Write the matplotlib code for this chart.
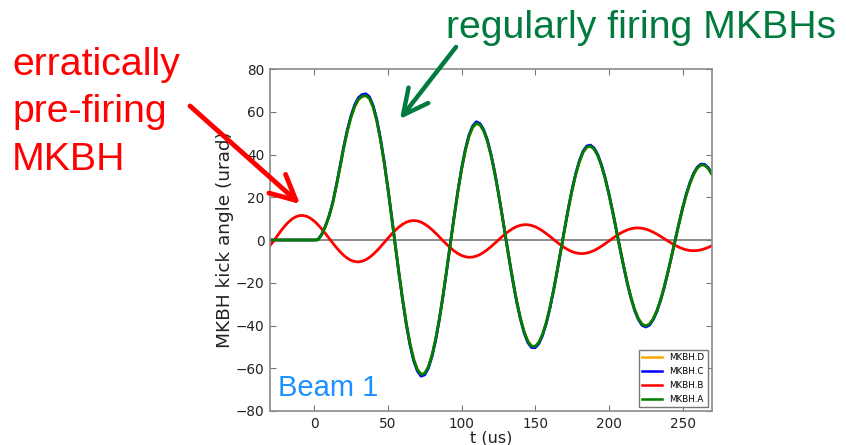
import numpy as np
import matplotlib
matplotlib.use("Agg")
import matplotlib.pyplot as plt

# time axis (us), sampled every 2.5 us
t_us = np.arange(-30, 270.01, 2.5)

# kick angle (urad)
mkbh_a = [0.0, 0.0, 0.0, 0.0, 0.0, 0.0, 0.0, 0.0, 0.0, 0.0, 0.0, 0.0, 0.0,
          0.1, 2.5, 6.2, 11.0, 17.1, 25.2, 34.0, 43.0, 51.0, 57.5, 62.5, 65.8, 67.2, 67.6,
          66.2, 62.2, 55.6, 46.8, 36.2, 24.1, 11.1, -2.3, -15.4, -27.8,
          -39.0, -48.5, -55.8, -60.6, -62.9, -62.4, -59.3, -53.8,
          -46.1, -36.6, -25.6, -13.6, -1.2, 11.0, 22.6, 33.0,
          41.7, 48.4, 52.7, 54.6, 53.9, 51.1, 46.3, 39.6,
          31.4, 21.9, 11.7, 1.0, -9.6, -19.7, -28.9, -36.7,
          -43.0, -47.4, -49.7, -49.8, -47.9, -44.1, -38.6, -31.5,
          -23.2, -14.0, -4.4, 5.3, 14.7, 23.3, 30.7, 36.7,
          41.1, 43.5, 43.9, 42.5, 39.4, 34.7, 28.7, 21.4,
          13.4, 4.9, -3.8, -12.2, -20.1, -26.9, -32.6, -36.8,
          -39.4, -40.2, -39.4, -37.0, -33.2, -28.2, -22.1, -15.1,
          -7.7, -0.1, 7.5, 14.7, 21.1, 26.5, 30.8, 33.7,
          35.1, 35.0, 33.4, 30.6]

mkbh_b = [-2.6, -0.50, 1.99, 4.37, 6.52, 8.37, 9.84, 10.86, 11.41, 11.47, 11.04, 10.16, 8.85,
          7.20, 5.26, 3.13, 0.90, -1.34, -3.48, -5.45, -7.15, -8.52, -9.52, -10.09, -10.24,
          -9.94, -9.23, -8.14, -6.73, -5.04, -3.17, -1.20, 0.79, 2.72, 4.51, 6.07, 7.36,
          8.32, 8.90, 9.10, 8.92, 8.36, 7.45, 6.24, 4.79, 3.16, 1.42, -0.35, -2.08,
          -3.70, -5.13, -6.33, -7.24, -7.83, -8.08, -7.98, -7.55, -6.80, -5.78, -4.53, -3.11,
          -1.58, 0.00, 1.55, 3.01, 4.32, 5.43, 6.29, 6.88, 7.15, 7.13, 6.80, 6.19,
          5.33, 4.26, 3.02, 1.68, 0.28, -1.11, -2.42, -3.62, -4.64, -5.45, -6.02, -6.32,
          -6.35, -6.12, -5.62, -4.90, -3.98, -2.91, -1.73, -0.50, 0.74, 1.92, 3.01, 3.95,
          4.71, 5.26, 5.58, 5.65, 5.49, 5.10, 4.49, 3.71, 2.79, 1.75, 0.66, -0.44,
          -1.50, -2.49, -3.35, -4.06, -4.59, -4.91, -5.03, -4.92, -4.61, -4.11, -3.44, -2.64]

mkbh_c = [0.0, 0.0, 0.0, 0.0, 0.0, 0.0, 0.0, 0.0, 0.0, 0.0, 0.0, 0.0, 0.0,
          0.1, 2.5, 6.3, 11.1, 17.3, 25.5, 34.4, 43.5, 51.6, 58.2, 63.3, 66.6, 68.0, 68.4,
          67.0, 62.9, 56.3, 47.4, 36.6, 24.4, 11.2, -2.3, -15.6, -28.1,
          -39.5, -49.1, -56.5, -61.3, -63.7, -63.1, -60.0, -54.4,
          -46.7, -37.0, -25.9, -13.8, -1.2, 11.1, 22.9, 33.4,
          42.2, 49.0, 53.3, 55.3, 54.5, 51.7, 46.9, 40.1,
          31.8, 22.2, 11.8, 1.0, -9.7, -19.9, -29.2, -37.1,
          -43.5, -48.0, -50.3, -50.4, -48.5, -44.6, -39.1, -31.9,
          -23.5, -14.2, -4.5, 5.4, 14.9, 23.6, 31.1, 37.1,
          41.6, 44.0, 44.4, 43.0, 39.9, 35.1, 29.0, 21.7,
          13.6, 5.0, -3.8, -12.3, -20.3, -27.2, -33.0, -37.2,
          -39.9, -40.7, -39.9, -37.4, -33.6, -28.5, -22.4, -15.3,
          -7.8, -0.1, 7.6, 14.9, 21.4, 26.8, 31.2, 34.1,
          35.5, 35.4, 33.8, 31.0]

mkbh_d = [0.0, 0.0, 0.0, 0.0, 0.0, 0.0, 0.0, 0.0, 0.0, 0.0, 0.0, 0.0, 0.0,
          0.1, 2.4, 6.1, 10.9, 17.0, 25.1, 33.9, 42.9, 50.9, 57.4, 62.4, 65.7, 67.1, 67.5,
          66.2, 62.3, 55.8, 47.0, 36.4, 24.4, 11.4, -2.0, -15.1, -27.5,
          -38.8, -48.3, -55.6, -60.5, -62.8, -62.4, -59.4, -53.9,
          -46.3, -36.8, -25.8, -13.9, -1.5, 10.7, 22.3, 32.7,
          41.5, 48.2, 52.6, 54.5, 53.9, 51.2, 46.5, 39.8,
          31.7, 22.2, 12.0, 1.3, -9.3, -19.4, -28.6, -36.5,
          -42.8, -47.2, -49.6, -49.8, -48.0, -44.3, -38.8, -31.8,
          -23.5, -14.3, -4.7, 5.0, 14.4, 23.0, 30.5, 36.5,
          41.0, 43.4, 43.9, 42.6, 39.6, 34.9, 28.9, 21.7,
          13.7, 5.2, -3.5, -11.9, -19.8, -26.7, -32.4, -36.7,
          -39.3, -40.2, -39.5, -37.1, -33.4, -28.4, -22.4, -15.4,
          -8.0, -0.4, 7.2, 14.4, 20.8, 26.3, 30.6, 33.6,
          35.1, 35.0, 33.5, 30.7]

labels = ["MKBH.D", "MKBH.C", "MKBH.B", "MKBH.A"]
colors = ["#FFA500", "#0000FF", "#FF0000", "#008000"]
series = [mkbh_d, mkbh_c, mkbh_b, mkbh_a]

W, H = 846, 445


def fx(px):
    return px / W


def fy(py):
    # pixel measured from the top
    return 1 - py / H


fig = plt.figure(figsize=(W / 100, H / 100), dpi=100)
ax = fig.add_axes([fx(270), fy(411), (712 - 270) / W, (411 - 69) / H])

ax.axhline(0, color="#8c8c8c", lw=1.4, zorder=1)
for vals, lab, col in zip(series, labels, colors):
    ax.plot(t_us, vals, color=col, lw=2.0, label=lab, zorder=2)

ax.set_xlim(-30, 270)
ax.set_ylim(-80, 80)
ax.set_xticks([0, 50, 100, 150, 200, 250])
ax.set_yticks(np.arange(-80, 81, 20))
ax.tick_params(direction="in", top=True, right=True, length=4, width=0.8,
               color="#777777", labelsize=9.8, labelcolor="#222222", pad=4)
for sp in ax.spines.values():
    sp.set_color("#8a8a8a")
    sp.set_linewidth(1.2)

ax.set_xlabel("t (us)", fontsize=11.5, color="#222222", labelpad=0)
ax.set_ylabel("MKBH kick angle (urad)", fontsize=13.3, color="#222222", labelpad=1)

leg = ax.legend(loc="lower right", fontsize=6.3, handlelength=2.3, labelspacing=0.55,
                borderaxespad=0.45, fancybox=False, framealpha=1, edgecolor="#777777")
leg.get_frame().set_linewidth(1.0)
for ln in leg.get_lines():
    ln.set_linewidth(1.8)

# slide annotations
fig.text(fx(278), fy(396), "Beam 1", family="Liberation Sans", fontsize=21,
         color="#1E90FF", va="baseline", ha="left")
fig.text(fx(446), fy(38), "regularly firing MKBHs", family="Liberation Sans",
         fontsize=28.3, color="#007A3D", va="baseline", ha="left")
for txt, base in [("erratically", 75), ("pre-firing", 122), ("MKBH", 170)]:
    fig.text(fx(12), fy(base), txt, family="Liberation Sans", fontsize=28.3,
             color="#FF0000", va="baseline", ha="left")

ax.annotate("", xy=(fx(300), fy(204)), xycoords="figure fraction",
            xytext=(fx(190), fy(106)), textcoords="figure fraction",
            arrowprops=dict(arrowstyle="->,head_length=0.9,head_width=0.45",
                            lw=3.5, color="#FF0000", mutation_scale=20,
                            shrinkA=0, shrinkB=0),
            annotation_clip=False)
ax.annotate("", xy=(fx(400), fy(119)), xycoords="figure fraction",
            xytext=(fx(456), fy(47)), textcoords="figure fraction",
            arrowprops=dict(arrowstyle="->,head_length=0.9,head_width=0.45",
                            lw=3.2, color="#007A3D", mutation_scale=20,
                            shrinkA=0, shrinkB=0),
            annotation_clip=False)

fig.savefig("out.png", dpi=100)
